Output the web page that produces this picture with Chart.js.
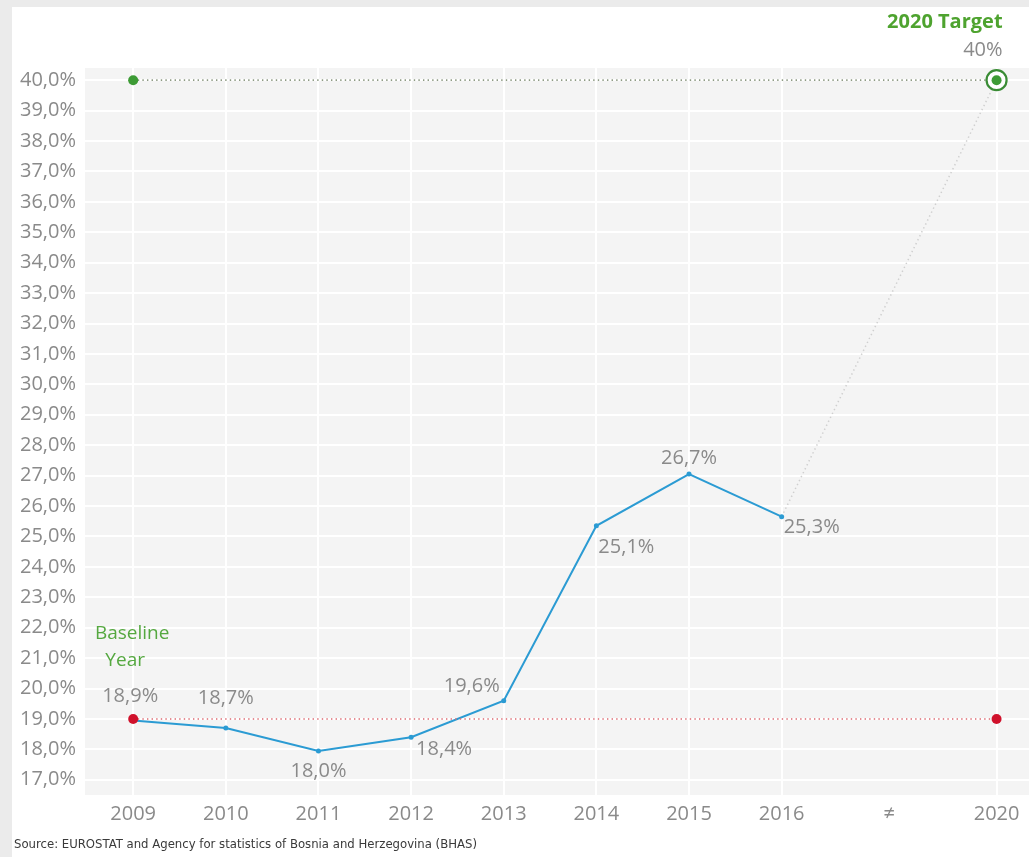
<!DOCTYPE html>
<html>
<head>
<meta charset="utf-8">
<script src="https://cdn.jsdelivr.net/npm/chart.js@4.4.0/dist/chart.umd.min.js"></script>
<style>
  body { margin: 0; background: #ebebeb; overflow: hidden; }
  #card { position: absolute; left: 12px; top: 7px; width: 1017px; height: 850px; background: #fff; }
  canvas { display: block; }
</style>
</head>
<body>
<div id="card"><canvas id="rateChart" width="1017" height="850"></canvas></div>
<script>
// values
const categories = ["2009", "2010", "2011", "2012", "2013", "2014", "2015", "2016", "\u2260", "2020"];
const rateValues = [18.95, 18.7, 17.95, 18.4, 19.6, 25.35, 27.05, 25.65];
const rateLabels = ["18,9%", "18,7%", "18,0%", "18,4%", "19,6%", "25,1%", "26,7%", "25,3%"];
const targetValue = 40;
const targetLabel = "40%";
const baselineValue = 19;
const yTicks = [17, 18, 19, 20, 21, 22, 23, 24, 25, 26, 27, 28, 29, 30, 31, 32, 33, 34, 35, 36, 37, 38, 39, 40];

// the gap slot ("≠") is a bit wider than a normal year
const gapWidth = 1.16;
function slot(i) {
  return i <= 7 ? i : 7 + (i - 7) * gapWidth;
}
const last = categories.length - 1;
const lastRate = rateValues.length - 1;

// label offsets from each point (px)
const labelOffsets = [[-3, -24], [0, -30], [0, 20], [33, 12], [-32, -14], [30, 21], [0, -16], [30, 11]];

const grey = "#8a8a8a";
const green = "#3d9b35";
const red = "#d0112b";
const blue = "#2b9bd3";

const plotBackground = {
  id: "plotBackground",
  beforeDraw(chart) {
    const a = chart.chartArea;
    const ctx = chart.ctx;
    ctx.save();
    ctx.fillStyle = "#f4f4f4";
    ctx.fillRect(a.left, a.top, a.right - a.left, a.bottom - a.top);
    ctx.restore();
  }
};

const annotations = {
  id: "annotations",
  afterDatasetsDraw(chart) {
    const ctx = chart.ctx;
    const xs = chart.scales.x;
    const ys = chart.scales.y;
    ctx.save();
    ctx.textBaseline = "middle";
    ctx.textAlign = "center";
    ctx.font = "20px 'Open Sans'";
    ctx.fillStyle = grey;
    rateValues.forEach(function (v, i) {
      const px = xs.getPixelForValue(slot(i));
      const py = ys.getPixelForValue(v);
      ctx.fillText(rateLabels[i], px + labelOffsets[i][0], py + labelOffsets[i][1]);
    });

    // 2020 target
    const tx = xs.getPixelForValue(slot(last));
    const ty = ys.getPixelForValue(targetValue);
    ctx.textAlign = "right";
    ctx.fillText(targetLabel, tx + 6, ty - 30);
    ctx.font = "bold 20px 'Open Sans'";
    ctx.fillStyle = "#4ea32f";
    ctx.fillText("2020 Target", tx + 6, ty - 58);

    // baseline year
    const bx = xs.getPixelForValue(slot(0));
    const by = ys.getPixelForValue(baselineValue);
    ctx.textAlign = "center";
    ctx.font = "19px 'Open Sans'";
    ctx.fillStyle = "#55a840";
    ctx.fillText("Baseline", bx - 1, by - 85);
    ctx.fillText("Year", bx - 8, by - 58);

    // source
    ctx.textAlign = "left";
    ctx.font = "13px 'DejaVu Sans Condensed'";
    ctx.fillStyle = "#3a3a3a";
    ctx.fillText("Source: EUROSTAT and Agency for statistics of Bosnia and Herzegovina (BHAS)", 2, 838);
    ctx.restore();
  }
};

const ctx = document.getElementById("rateChart").getContext("2d");
const chart = new Chart(ctx, {
  type: "line",
  data: {
    datasets: [
      {
        // measured rate
        data: rateValues.map(function (v, i) { return { x: slot(i), y: v }; }),
        borderColor: blue,
        borderWidth: 2,
        pointRadius: 2.5,
        pointBackgroundColor: blue,
        pointBorderWidth: 0,
        tension: 0,
        order: 2
      },
      {
        // baseline dotted line
        data: [{ x: slot(0), y: baselineValue }, { x: slot(last), y: baselineValue }],
        borderColor: "#dc6a72",
        borderWidth: 1.6,
        borderDash: [1.4, 3.2],
        pointRadius: 5,
        pointBackgroundColor: red,
        pointBorderWidth: 0,
        order: 1
      },
      {
        // target dotted line
        data: [{ x: slot(0), y: targetValue }, { x: slot(last), y: targetValue }],
        borderColor: "#8e9a84",
        borderWidth: 1.6,
        borderDash: [1.4, 3.2],
        pointRadius: [5, 0],
        pointBackgroundColor: green,
        pointBorderWidth: 0,
        order: 8
      },
      {
        // projection to target
        data: [{ x: slot(lastRate), y: rateValues[lastRate] }, { x: slot(last), y: targetValue }],
        borderColor: "#cfcfcf",
        borderWidth: 1.5,
        borderDash: [1.4, 3],
        pointRadius: 0,
        order: 9
      },
      {
        // target ring
        data: [{ x: slot(last), y: targetValue }],
        showLine: false,
        pointRadius: 10,
        pointBackgroundColor: "#ffffff",
        pointBorderColor: "#3a8c35",
        pointBorderWidth: 2.2,
        order: 5
      },
      {
        // target dot
        data: [{ x: slot(last), y: targetValue }],
        showLine: false,
        pointRadius: 5,
        pointBackgroundColor: green,
        pointBorderWidth: 0,
        order: 4
      }
    ]
  },
  options: {
    responsive: false,
    animation: false,
    devicePixelRatio: 1,
    layout: { autoPadding: false, padding: { top: 61, left: 0, right: 0, bottom: 0 } },
    plugins: {
      legend: { display: false },
      tooltip: { enabled: false }
    },
    elements: { point: { hoverRadius: 0 } },
    scales: {
      x: {
        type: "linear",
        min: -0.52,
        max: 9.67,
        afterBuildTicks: function (scale) {
          scale.ticks = categories.map(function (c, i) { return { value: slot(i) }; });
        },
        afterFit: function (scale) {
          scale.height = 62;
          scale.paddingLeft = 0;
          scale.paddingRight = 0;
        },
        ticks: {
          autoSkip: false,
          maxRotation: 0,
          padding: 7,
          color: grey,
          font: { family: "'Open Sans'", size: 20 },
          callback: function (value, index) { return categories[index]; }
        },
        grid: {
          drawTicks: false,
          lineWidth: 2,
          color: function (c) {
            return categories[c.index] === "\u2260" ? "rgba(0,0,0,0)" : "#ffffff";
          }
        },
        border: { display: false }
      },
      y: {
        min: 16.5,
        max: 40.4,
        afterBuildTicks: function (scale) {
          scale.ticks = yTicks.map(function (v) { return { value: v }; });
        },
        afterFit: function (scale) {
          scale.width = 73;
          scale.paddingTop = 0;
          scale.paddingBottom = 0;
        },
        ticks: {
          padding: 9,
          color: grey,
          font: { family: "'Open Sans'", size: 20 },
          callback: function (value) { return value.toFixed(1).replace(".", ",") + "%"; }
        },
        grid: { drawTicks: false, lineWidth: 2, color: "#ffffff" },
        border: { display: false }
      }
    }
  },
  plugins: [plotBackground, annotations]
});
</script>
</body>
</html>
